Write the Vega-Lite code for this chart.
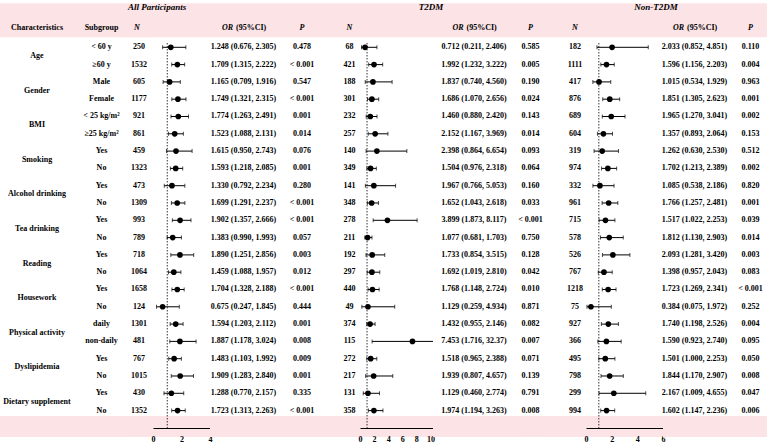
{
"$schema": "https://vega.github.io/schema/vega-lite/v6.json",
"padding": 0,
"background": "white",
"spacing": 0,
"bounds": "flush",
"config": {
  "view": {"stroke": null},
  "concat": {"spacing": 0},
  "text": {"font": "Liberation Serif", "fontWeight": "bold", "fontSize": 8, "color": "black"},
  "axis": {"domain": true, "domainColor": "black", "domainWidth": 1, "ticks": false, "grid": false, "labelFont": "Liberation Serif", "labelFontWeight": "bold", "labelFontSize": 8, "labelColor": "black", "labelPadding": 7, "zindex": 1, "labelFlush": false, "labelOverlap": false, "labelBound": false, "title": null}
},
"datasets": {
"t": [
{"i":0,"grp":"Age","sub":"< 60 y","na":"250","ora":1.248,"loa":0.676,"hia":2.305,"ta":"1.248 (0.676, 2.305)","pa":"0.478","nt":"68","ort":0.712,"lot":0.211,"hit":2.406,"tt":"0.712 (0.211, 2.406)","pt":"0.585","nn":"182","orn":2.033,"lon":0.852,"hin":4.851,"tn":"2.033 (0.852, 4.851)","pn":"0.110"},
{"i":1,"grp":"Age","sub":"≥60 y","na":"1532","ora":1.709,"loa":1.315,"hia":2.222,"ta":"1.709 (1.315, 2.222)","pa":"< 0.001","nt":"421","ort":1.992,"lot":1.232,"hit":3.222,"tt":"1.992 (1.232, 3.222)","pt":"0.005","nn":"1111","orn":1.596,"lon":1.156,"hin":2.203,"tn":"1.596 (1.156, 2.203)","pn":"0.004"},
{"i":2,"grp":"Gender","sub":"Male","na":"605","ora":1.165,"loa":0.709,"hia":1.916,"ta":"1.165 (0.709, 1.916)","pa":"0.547","nt":"188","ort":1.837,"lot":0.740,"hit":4.560,"tt":"1.837 (0.740, 4.560)","pt":"0.190","nn":"417","orn":1.015,"lon":0.534,"hin":1.929,"tn":"1.015 (0.534, 1.929)","pn":"0.963"},
{"i":3,"grp":"Gender","sub":"Female","na":"1177","ora":1.749,"loa":1.321,"hia":2.315,"ta":"1.749 (1.321, 2.315)","pa":"< 0.001","nt":"301","ort":1.686,"lot":1.070,"hit":2.656,"tt":"1.686 (1.070, 2.656)","pt":"0.024","nn":"876","orn":1.851,"lon":1.305,"hin":2.623,"tn":"1.851 (1.305, 2.623)","pn":"0.001"},
{"i":4,"grp":"BMI","sub":"< 25 kg/m²","na":"921","ora":1.774,"loa":1.263,"hia":2.491,"ta":"1.774 (1.263, 2.491)","pa":"0.001","nt":"232","ort":1.460,"lot":0.880,"hit":2.420,"tt":"1.460 (0.880, 2.420)","pt":"0.143","nn":"689","orn":1.965,"lon":1.270,"hin":3.041,"tn":"1.965 (1.270, 3.041)","pn":"0.002"},
{"i":5,"grp":"BMI","sub":"≥25 kg/m²","na":"861","ora":1.523,"loa":1.088,"hia":2.131,"ta":"1.523 (1.088, 2.131)","pa":"0.014","nt":"257","ort":2.152,"lot":1.167,"hit":3.969,"tt":"2.152 (1.167, 3.969)","pt":"0.014","nn":"604","orn":1.357,"lon":0.893,"hin":2.064,"tn":"1.357 (0.893, 2.064)","pn":"0.153"},
{"i":6,"grp":"Smoking","sub":"Yes","na":"459","ora":1.615,"loa":0.950,"hia":2.743,"ta":"1.615 (0.950, 2.743)","pa":"0.076","nt":"140","ort":2.398,"lot":0.864,"hit":6.654,"tt":"2.398 (0.864, 6.654)","pt":"0.093","nn":"319","orn":1.262,"lon":0.630,"hin":2.530,"tn":"1.262 (0.630, 2.530)","pn":"0.512"},
{"i":7,"grp":"Smoking","sub":"No","na":"1323","ora":1.593,"loa":1.218,"hia":2.085,"ta":"1.593 (1.218, 2.085)","pa":"0.001","nt":"349","ort":1.504,"lot":0.976,"hit":2.318,"tt":"1.504 (0.976, 2.318)","pt":"0.064","nn":"974","orn":1.702,"lon":1.213,"hin":2.389,"tn":"1.702 (1.213, 2.389)","pn":"0.002"},
{"i":8,"grp":"Alcohol drinking","sub":"Yes","na":"473","ora":1.330,"loa":0.792,"hia":2.234,"ta":"1.330 (0.792, 2.234)","pa":"0.280","nt":"141","ort":1.967,"lot":0.766,"hit":5.053,"tt":"1.967 (0.766, 5.053)","pt":"0.160","nn":"332","orn":1.085,"lon":0.538,"hin":2.186,"tn":"1.085 (0.538, 2.186)","pn":"0.820"},
{"i":9,"grp":"Alcohol drinking","sub":"No","na":"1309","ora":1.699,"loa":1.291,"hia":2.237,"ta":"1.699 (1.291, 2.237)","pa":"< 0.001","nt":"348","ort":1.652,"lot":1.043,"hit":2.618,"tt":"1.652 (1.043, 2.618)","pt":"0.033","nn":"961","orn":1.766,"lon":1.257,"hin":2.481,"tn":"1.766 (1.257, 2.481)","pn":"0.001"},
{"i":10,"grp":"Tea drinking","sub":"Yes","na":"993","ora":1.902,"loa":1.357,"hia":2.666,"ta":"1.902 (1.357, 2.666)","pa":"< 0.001","nt":"278","ort":3.899,"lot":1.873,"hit":8.117,"tt":"3.899 (1.873, 8.117)","pt":"< 0.001","nn":"715","orn":1.517,"lon":1.022,"hin":2.253,"tn":"1.517 (1.022, 2.253)","pn":"0.039"},
{"i":11,"grp":"Tea drinking","sub":"No","na":"789","ora":1.383,"loa":0.990,"hia":1.993,"ta":"1.383 (0.990, 1.993)","pa":"0.057","nt":"211","ort":1.077,"lot":0.681,"hit":1.703,"tt":"1.077 (0.681, 1.703)","pt":"0.750","nn":"578","orn":1.812,"lon":1.130,"hin":2.903,"tn":"1.812 (1.130, 2.903)","pn":"0.014"},
{"i":12,"grp":"Reading","sub":"Yes","na":"718","ora":1.890,"loa":1.251,"hia":2.856,"ta":"1.890 (1.251, 2.856)","pa":"0.003","nt":"192","ort":1.733,"lot":0.854,"hit":3.515,"tt":"1.733 (0.854, 3.515)","pt":"0.128","nn":"526","orn":2.093,"lon":1.281,"hin":3.420,"tn":"2.093 (1.281, 3.420)","pn":"0.003"},
{"i":13,"grp":"Reading","sub":"No","na":"1064","ora":1.459,"loa":1.088,"hia":1.957,"ta":"1.459 (1.088, 1.957)","pa":"0.012","nt":"297","ort":1.692,"lot":1.019,"hit":2.810,"tt":"1.692 (1.019, 2.810)","pt":"0.042","nn":"767","orn":1.398,"lon":0.957,"hin":2.043,"tn":"1.398 (0.957, 2.043)","pn":"0.083"},
{"i":14,"grp":"Housework","sub":"Yes","na":"1658","ora":1.704,"loa":1.328,"hia":2.188,"ta":"1.704 (1.328, 2.188)","pa":"< 0.001","nt":"440","ort":1.768,"lot":1.148,"hit":2.724,"tt":"1.768 (1.148, 2.724)","pt":"0.010","nn":"1218","orn":1.723,"lon":1.269,"hin":2.341,"tn":"1.723 (1.269, 2.341)","pn":"< 0.001"},
{"i":15,"grp":"Housework","sub":"No","na":"124","ora":0.675,"loa":0.247,"hia":1.845,"ta":"0.675 (0.247, 1.845)","pa":"0.444","nt":"49","ort":1.129,"lot":0.259,"hit":4.934,"tt":"1.129 (0.259, 4.934)","pt":"0.871","nn":"75","orn":0.384,"lon":0.075,"hin":1.972,"tn":"0.384 (0.075, 1.972)","pn":"0.252"},
{"i":16,"grp":"Physical activity","sub":"daily","na":"1301","ora":1.594,"loa":1.203,"hia":2.112,"ta":"1.594 (1.203, 2.112)","pa":"0.001","nt":"374","ort":1.432,"lot":0.955,"hit":2.146,"tt":"1.432 (0.955, 2.146)","pt":"0.082","nn":"927","orn":1.740,"lon":1.198,"hin":2.526,"tn":"1.740 (1.198, 2.526)","pn":"0.004"},
{"i":17,"grp":"Physical activity","sub":"non-daily","na":"481","ora":1.887,"loa":1.178,"hia":3.024,"ta":"1.887 (1.178, 3.024)","pa":"0.008","nt":"115","ort":7.453,"lot":1.716,"hit":32.37,"tt":"7.453 (1.716, 32.37)","pt":"0.007","nn":"366","orn":1.590,"lon":0.923,"hin":2.740,"tn":"1.590 (0.923, 2.740)","pn":"0.095"},
{"i":18,"grp":"Dyslipidemia","sub":"Yes","na":"767","ora":1.483,"loa":1.103,"hia":1.992,"ta":"1.483 (1.103, 1.992)","pa":"0.009","nt":"272","ort":1.518,"lot":0.965,"hit":2.388,"tt":"1.518 (0.965, 2.388)","pt":"0.071","nn":"495","orn":1.501,"lon":1.000,"hin":2.253,"tn":"1.501 (1.000, 2.253)","pn":"0.050"},
{"i":19,"grp":"Dyslipidemia","sub":"No","na":"1015","ora":1.909,"loa":1.283,"hia":2.840,"ta":"1.909 (1.283, 2.840)","pa":"0.001","nt":"217","ort":1.939,"lot":0.807,"hit":4.657,"tt":"1.939 (0.807, 4.657)","pt":"0.139","nn":"798","orn":1.844,"lon":1.170,"hin":2.907,"tn":"1.844 (1.170, 2.907)","pn":"0.008"},
{"i":20,"grp":"Dietary supplement","sub":"Yes","na":"430","ora":1.288,"loa":0.770,"hia":2.157,"ta":"1.288 (0.770, 2.157)","pa":"0.335","nt":"131","ort":1.129,"lot":0.460,"hit":2.774,"tt":"1.129 (0.460, 2.774)","pt":"0.791","nn":"299","orn":2.167,"lon":1.009,"hin":4.655,"tn":"2.167 (1.009, 4.655)","pn":"0.047"},
{"i":21,"grp":"Dietary supplement","sub":"No","na":"1352","ora":1.723,"loa":1.313,"hia":2.263,"ta":"1.723 (1.313, 2.263)","pa":"< 0.001","nt":"358","ort":1.974,"lot":1.194,"hit":3.263,"tt":"1.974 (1.194, 3.263)","pt":"0.008","nn":"994","orn":1.602,"lon":1.147,"hin":2.236,"tn":"1.602 (1.147, 2.236)","pn":"0.006"}
]
},
"hconcat": [
{"width": 74, "height": 428, "layer": [
  {"data": {"values": [{}]}, "mark": {"type": "rect", "color": "#fbe3e6"}, "encoding": {"y": {"datum": -2.543, "type": "quantitative", "scale": {"domain": [-2.734, 22.006], "reverse": true, "nice": false, "zero": false}, "axis": null}, "y2": {"datum": -0.578}}},
  {"data": {"values": [{}]}, "mark": {"type": "rect", "color": "#fbe3e6"}, "encoding": {"y": {"datum": 21.31, "type": "quantitative"}, "y2": {"datum": 22.52}}},
  {"data": {"values": [{}]}, "mark": {"type": "text", "text": "Characteristics"}, "encoding": {"y": {"datum": -1.116, "type": "quantitative"}}},
  {"data": {"name": "t"}, "mark": {"type": "text"}, "encoding": {"y": {"aggregate": "mean", "field": "i", "type": "quantitative"}, "text": {"field": "grp", "type": "nominal"}}}
]},
{"width": 51, "height": 428, "layer": [
  {"data": {"values": [{}]}, "mark": {"type": "rect", "color": "#fbe3e6"}, "encoding": {"y": {"datum": -2.543, "type": "quantitative", "scale": {"domain": [-2.734, 22.006], "reverse": true, "nice": false, "zero": false}, "axis": null}, "y2": {"datum": -0.578}}},
  {"data": {"values": [{}]}, "mark": {"type": "rect", "color": "#fbe3e6"}, "encoding": {"y": {"datum": 21.31, "type": "quantitative"}, "y2": {"datum": 22.52}}},
  {"data": {"values": [{}]}, "mark": {"type": "text", "text": "Subgroup", "dx": 2}, "encoding": {"y": {"datum": -1.116, "type": "quantitative"}}},
  {"data": {"name": "t"}, "mark": {"type": "text", "dx": 2}, "encoding": {"y": {"field": "i", "type": "quantitative"}, "text": {"field": "sub", "type": "nominal"}}}
]},
{"width": 28, "height": 428, "layer": [
  {"data": {"values": [{}]}, "mark": {"type": "rect", "color": "#fbe3e6"}, "encoding": {"y": {"datum": -2.543, "type": "quantitative", "scale": {"domain": [-2.734, 22.006], "reverse": true, "nice": false, "zero": false}, "axis": null}, "y2": {"datum": -0.578}}},
  {"data": {"values": [{}]}, "mark": {"type": "rect", "color": "#fbe3e6"}, "encoding": {"y": {"datum": 21.31, "type": "quantitative"}, "y2": {"datum": 22.52}}},
  {"data": {"values": [{}]}, "mark": {"type": "text", "text": "N", "fontStyle": "italic", "dx": -2}, "encoding": {"y": {"datum": -1.116, "type": "quantitative"}}},
  {"data": {"name": "t"}, "mark": {"type": "text"}, "encoding": {"y": {"field": "i", "type": "quantitative"}, "text": {"field": "na", "type": "nominal"}}}
]},
{"width": 57, "height": 428, "layer": [
  {"data": {"values": [{}]}, "mark": {"type": "rect", "color": "#fbe3e6"}, "encoding": {"y": {"datum": -2.543, "type": "quantitative", "scale": {"domain": [-2.734, 22.006], "reverse": true, "nice": false, "zero": false}, "axis": null}, "y2": {"datum": -0.578}}},
  {"data": {"values": [{}]}, "mark": {"type": "rect", "color": "#fbe3e6"}, "encoding": {"y": {"datum": 21.31, "type": "quantitative"}, "y2": {"datum": 22.52}}},
  {"data": {"values": [{}]}, "mark": {"type": "text", "text": "All Participants", "fontStyle": "italic", "fontSize": 9, "dx": -24.5}, "encoding": {"y": {"datum": -2.347, "type": "quantitative"}}},
  {"data": {"values": [{}]}, "mark": {"type": "rule", "color": "#333333", "strokeDash": [1.5, 1.5], "strokeWidth": 1}, "encoding": {"x": {"datum": 1, "type": "quantitative", "scale": {"domain": [0, 4], "nice": false, "zero": false}, "axis": {"values": [0, 2, 4], "labelOverlap": false, "domain": true, "zindex": 1}}, "y": {"datum": -0.25, "type": "quantitative"}, "y2": {"datum": 22.006}}},
  {"data": {"name": "t"}, "mark": {"type": "rule", "color": "black", "strokeWidth": 1, "clip": true}, "encoding": {"x": {"field": "loa", "type": "quantitative", "axis": {"values": [0, 2, 4], "labelOverlap": false, "domain": true, "zindex": 1}}, "x2": {"field": "hia"}, "y": {"field": "i", "type": "quantitative"}}},
  {"data": {"name": "t"}, "mark": {"type": "tick", "orient": "vertical", "size": 4, "thickness": 1, "color": "black", "clip": true}, "encoding": {"x": {"field": "loa", "type": "quantitative", "axis": {"values": [0, 2, 4], "labelOverlap": false, "domain": true, "zindex": 1}}, "y": {"field": "i", "type": "quantitative"}}},
  {"data": {"name": "t"}, "mark": {"type": "tick", "orient": "vertical", "size": 4, "thickness": 1, "color": "black", "clip": true}, "encoding": {"x": {"field": "hia", "type": "quantitative", "axis": {"values": [0, 2, 4], "labelOverlap": false, "domain": true, "zindex": 1}}, "y": {"field": "i", "type": "quantitative"}}},
  {"data": {"name": "t"}, "mark": {"type": "point", "filled": true, "color": "black", "opacity": 1, "size": 32}, "encoding": {"x": {"field": "ora", "type": "quantitative", "axis": {"values": [0, 2, 4], "labelOverlap": false, "domain": true, "zindex": 1}}, "y": {"field": "i", "type": "quantitative"}}}
]},
{"width": 67, "height": 428, "layer": [
  {"data": {"values": [{}]}, "mark": {"type": "rect", "color": "#fbe3e6"}, "encoding": {"y": {"datum": -2.543, "type": "quantitative", "scale": {"domain": [-2.734, 22.006], "reverse": true, "nice": false, "zero": false}, "axis": null}, "y2": {"datum": -0.578}}},
  {"data": {"values": [{}]}, "mark": {"type": "rect", "color": "#fbe3e6"}, "encoding": {"y": {"datum": 21.31, "type": "quantitative"}, "y2": {"datum": 22.52}}},
  {"data": {"values": [{}]}, "mark": {"type": "text", "text": "OR", "fontStyle": "italic", "align": "right", "dx": -10.5}, "encoding": {"y": {"datum": -1.116, "type": "quantitative"}}},
  {"data": {"values": [{}]}, "mark": {"type": "text", "text": "(95%CI)", "align": "left", "dx": -7.5}, "encoding": {"y": {"datum": -1.116, "type": "quantitative"}}},
  {"data": {"name": "t"}, "mark": {"type": "text"}, "encoding": {"y": {"field": "i", "type": "quantitative"}, "text": {"field": "ta", "type": "nominal"}}}
]},
{"width": 50, "height": 428, "layer": [
  {"data": {"values": [{}]}, "mark": {"type": "rect", "color": "#fbe3e6"}, "encoding": {"y": {"datum": -2.543, "type": "quantitative", "scale": {"domain": [-2.734, 22.006], "reverse": true, "nice": false, "zero": false}, "axis": null}, "y2": {"datum": -0.578}}},
  {"data": {"values": [{}]}, "mark": {"type": "rect", "color": "#fbe3e6"}, "encoding": {"y": {"datum": 21.31, "type": "quantitative"}, "y2": {"datum": 22.52}}},
  {"data": {"values": [{}]}, "mark": {"type": "text", "text": "P", "fontStyle": "italic"}, "encoding": {"y": {"datum": -1.116, "type": "quantitative"}}},
  {"data": {"name": "t"}, "mark": {"type": "text"}, "encoding": {"y": {"field": "i", "type": "quantitative"}, "text": {"field": "pa", "type": "nominal"}}}
]},
{"width": 33, "height": 428, "layer": [
  {"data": {"values": [{}]}, "mark": {"type": "rect", "color": "#fbe3e6"}, "encoding": {"y": {"datum": -2.543, "type": "quantitative", "scale": {"domain": [-2.734, 22.006], "reverse": true, "nice": false, "zero": false}, "axis": null}, "y2": {"datum": -0.578}}},
  {"data": {"values": [{}]}, "mark": {"type": "rect", "color": "#fbe3e6"}, "encoding": {"y": {"datum": 21.31, "type": "quantitative"}, "y2": {"datum": 22.52}}},
  {"data": {"values": [{}]}, "mark": {"type": "text", "text": "N", "fontStyle": "italic", "dx": 6}, "encoding": {"y": {"datum": -1.116, "type": "quantitative"}}},
  {"data": {"name": "t"}, "mark": {"type": "text", "dx": 6}, "encoding": {"y": {"field": "i", "type": "quantitative"}, "text": {"field": "nt", "type": "nominal"}}}
]},
{"width": 73, "height": 428, "layer": [
  {"data": {"values": [{}]}, "mark": {"type": "rect", "color": "#fbe3e6"}, "encoding": {"y": {"datum": -2.543, "type": "quantitative", "scale": {"domain": [-2.734, 22.006], "reverse": true, "nice": false, "zero": false}, "axis": null}, "y2": {"datum": -0.578}}},
  {"data": {"values": [{}]}, "mark": {"type": "rect", "color": "#fbe3e6"}, "encoding": {"y": {"datum": 21.31, "type": "quantitative"}, "y2": {"datum": 22.52}}},
  {"data": {"values": [{}]}, "mark": {"type": "rule", "color": "#333333", "strokeDash": [1.5, 1.5], "strokeWidth": 1}, "encoding": {"x": {"datum": 1, "type": "quantitative", "scale": {"domain": [0, 10.37], "nice": false, "zero": false}, "axis": {"values": [0, 2, 4, 6, 8, 10], "labelOverlap": false, "domain": true, "zindex": 1}}, "y": {"datum": -0.25, "type": "quantitative"}, "y2": {"datum": 22.006}}},
  {"data": {"name": "t"}, "mark": {"type": "rule", "color": "black", "strokeWidth": 1, "clip": true}, "encoding": {"x": {"field": "lot", "type": "quantitative", "axis": {"values": [0, 2, 4, 6, 8, 10], "labelOverlap": false, "domain": true, "zindex": 1}}, "x2": {"field": "hit"}, "y": {"field": "i", "type": "quantitative"}}},
  {"data": {"name": "t"}, "mark": {"type": "tick", "orient": "vertical", "size": 4, "thickness": 1, "color": "black", "clip": true}, "encoding": {"x": {"field": "lot", "type": "quantitative", "axis": {"values": [0, 2, 4, 6, 8, 10], "labelOverlap": false, "domain": true, "zindex": 1}}, "y": {"field": "i", "type": "quantitative"}}},
  {"data": {"name": "t"}, "mark": {"type": "tick", "orient": "vertical", "size": 4, "thickness": 1, "color": "black", "clip": true}, "encoding": {"x": {"field": "hit", "type": "quantitative", "axis": {"values": [0, 2, 4, 6, 8, 10], "labelOverlap": false, "domain": true, "zindex": 1}}, "y": {"field": "i", "type": "quantitative"}}},
  {"data": {"name": "t"}, "mark": {"type": "point", "filled": true, "color": "black", "opacity": 1, "size": 32}, "encoding": {"x": {"field": "ort", "type": "quantitative", "axis": {"values": [0, 2, 4, 6, 8, 10], "labelOverlap": false, "domain": true, "zindex": 1}}, "y": {"field": "i", "type": "quantitative"}}}
]},
{"width": 82, "height": 428, "layer": [
  {"data": {"values": [{}]}, "mark": {"type": "rect", "color": "#fbe3e6"}, "encoding": {"y": {"datum": -2.543, "type": "quantitative", "scale": {"domain": [-2.734, 22.006], "reverse": true, "nice": false, "zero": false}, "axis": null}, "y2": {"datum": -0.578}}},
  {"data": {"values": [{}]}, "mark": {"type": "rect", "color": "#fbe3e6"}, "encoding": {"y": {"datum": 21.31, "type": "quantitative"}, "y2": {"datum": 22.52}}},
  {"data": {"values": [{}]}, "mark": {"type": "text", "text": "T2DM", "fontStyle": "italic", "fontSize": 9, "dx": -43}, "encoding": {"y": {"datum": -2.347, "type": "quantitative"}}},
  {"data": {"values": [{}]}, "mark": {"type": "text", "text": "OR", "fontStyle": "italic", "align": "right", "dx": -10.5}, "encoding": {"y": {"datum": -1.116, "type": "quantitative"}}},
  {"data": {"values": [{}]}, "mark": {"type": "text", "text": "(95%CI)", "align": "left", "dx": -7.5}, "encoding": {"y": {"datum": -1.116, "type": "quantitative"}}},
  {"data": {"name": "t"}, "mark": {"type": "text"}, "encoding": {"y": {"field": "i", "type": "quantitative"}, "text": {"field": "tt", "type": "nominal"}}}
]},
{"width": 31, "height": 428, "layer": [
  {"data": {"values": [{}]}, "mark": {"type": "rect", "color": "#fbe3e6"}, "encoding": {"y": {"datum": -2.543, "type": "quantitative", "scale": {"domain": [-2.734, 22.006], "reverse": true, "nice": false, "zero": false}, "axis": null}, "y2": {"datum": -0.578}}},
  {"data": {"values": [{}]}, "mark": {"type": "rect", "color": "#fbe3e6"}, "encoding": {"y": {"datum": 21.31, "type": "quantitative"}, "y2": {"datum": 22.52}}},
  {"data": {"values": [{}]}, "mark": {"type": "text", "text": "P", "fontStyle": "italic"}, "encoding": {"y": {"datum": -1.116, "type": "quantitative"}}},
  {"data": {"name": "t"}, "mark": {"type": "text"}, "encoding": {"y": {"field": "i", "type": "quantitative"}, "text": {"field": "pt", "type": "nominal"}}}
]},
{"width": 40, "height": 428, "layer": [
  {"data": {"values": [{}]}, "mark": {"type": "rect", "color": "#fbe3e6"}, "encoding": {"y": {"datum": -2.543, "type": "quantitative", "scale": {"domain": [-2.734, 22.006], "reverse": true, "nice": false, "zero": false}, "axis": null}, "y2": {"datum": -0.578}}},
  {"data": {"values": [{}]}, "mark": {"type": "rect", "color": "#fbe3e6"}, "encoding": {"y": {"datum": 21.31, "type": "quantitative"}, "y2": {"datum": 22.52}}},
  {"data": {"values": [{}]}, "mark": {"type": "text", "text": "N", "fontStyle": "italic", "dx": 9}, "encoding": {"y": {"datum": -1.116, "type": "quantitative"}}},
  {"data": {"name": "t"}, "mark": {"type": "text", "dx": 9}, "encoding": {"y": {"field": "i", "type": "quantitative"}, "text": {"field": "nn", "type": "nominal"}}}
]},
{"width": 77, "height": 428, "layer": [
  {"data": {"values": [{}]}, "mark": {"type": "rect", "color": "#fbe3e6"}, "encoding": {"y": {"datum": -2.543, "type": "quantitative", "scale": {"domain": [-2.734, 22.006], "reverse": true, "nice": false, "zero": false}, "axis": null}, "y2": {"datum": -0.578}}},
  {"data": {"values": [{}]}, "mark": {"type": "rect", "color": "#fbe3e6"}, "encoding": {"y": {"datum": 21.31, "type": "quantitative"}, "y2": {"datum": 22.52}}},
  {"data": {"values": [{}]}, "mark": {"type": "rule", "color": "#333333", "strokeDash": [1.5, 1.5], "strokeWidth": 1}, "encoding": {"x": {"datum": 1, "type": "quantitative", "scale": {"domain": [0, 6], "nice": false, "zero": false}, "axis": {"values": [0, 2, 4, 6], "labelOverlap": false, "domain": true, "zindex": 1}}, "y": {"datum": -0.25, "type": "quantitative"}, "y2": {"datum": 22.006}}},
  {"data": {"name": "t"}, "mark": {"type": "rule", "color": "black", "strokeWidth": 1, "clip": true}, "encoding": {"x": {"field": "lon", "type": "quantitative", "axis": {"values": [0, 2, 4, 6], "labelOverlap": false, "domain": true, "zindex": 1}}, "x2": {"field": "hin"}, "y": {"field": "i", "type": "quantitative"}}},
  {"data": {"name": "t"}, "mark": {"type": "tick", "orient": "vertical", "size": 4, "thickness": 1, "color": "black", "clip": true}, "encoding": {"x": {"field": "lon", "type": "quantitative", "axis": {"values": [0, 2, 4, 6], "labelOverlap": false, "domain": true, "zindex": 1}}, "y": {"field": "i", "type": "quantitative"}}},
  {"data": {"name": "t"}, "mark": {"type": "tick", "orient": "vertical", "size": 4, "thickness": 1, "color": "black", "clip": true}, "encoding": {"x": {"field": "hin", "type": "quantitative", "axis": {"values": [0, 2, 4, 6], "labelOverlap": false, "domain": true, "zindex": 1}}, "y": {"field": "i", "type": "quantitative"}}},
  {"data": {"name": "t"}, "mark": {"type": "point", "filled": true, "color": "black", "opacity": 1, "size": 32}, "encoding": {"x": {"field": "orn", "type": "quantitative", "axis": {"values": [0, 2, 4, 6], "labelOverlap": false, "domain": true, "zindex": 1}}, "y": {"field": "i", "type": "quantitative"}}}
]},
{"width": 63, "height": 428, "layer": [
  {"data": {"values": [{}]}, "mark": {"type": "rect", "color": "#fbe3e6"}, "encoding": {"y": {"datum": -2.543, "type": "quantitative", "scale": {"domain": [-2.734, 22.006], "reverse": true, "nice": false, "zero": false}, "axis": null}, "y2": {"datum": -0.578}}},
  {"data": {"values": [{}]}, "mark": {"type": "rect", "color": "#fbe3e6"}, "encoding": {"y": {"datum": 21.31, "type": "quantitative"}, "y2": {"datum": 22.52}}},
  {"data": {"values": [{}]}, "mark": {"type": "text", "text": "Non-T2DM", "fontStyle": "italic", "fontSize": 9, "dx": -38.5}, "encoding": {"y": {"datum": -2.347, "type": "quantitative"}}},
  {"data": {"values": [{}]}, "mark": {"type": "text", "text": "OR", "fontStyle": "italic", "align": "right", "dx": -10.5}, "encoding": {"y": {"datum": -1.116, "type": "quantitative"}}},
  {"data": {"values": [{}]}, "mark": {"type": "text", "text": "(95%CI)", "align": "left", "dx": -7.5}, "encoding": {"y": {"datum": -1.116, "type": "quantitative"}}},
  {"data": {"name": "t"}, "mark": {"type": "text"}, "encoding": {"y": {"field": "i", "type": "quantitative"}, "text": {"field": "tn", "type": "nominal"}}}
]},
{"width": 41, "height": 428, "layer": [
  {"data": {"values": [{}]}, "mark": {"type": "rect", "color": "#fbe3e6"}, "encoding": {"y": {"datum": -2.543, "type": "quantitative", "scale": {"domain": [-2.734, 22.006], "reverse": true, "nice": false, "zero": false}, "axis": null}, "y2": {"datum": -0.578}}},
  {"data": {"values": [{}]}, "mark": {"type": "rect", "color": "#fbe3e6"}, "encoding": {"y": {"datum": 21.31, "type": "quantitative"}, "y2": {"datum": 22.52}}},
  {"data": {"values": [{}]}, "mark": {"type": "text", "text": "P", "fontStyle": "italic", "dx": 4}, "encoding": {"y": {"datum": -1.116, "type": "quantitative"}}},
  {"data": {"name": "t"}, "mark": {"type": "text", "dx": 4}, "encoding": {"y": {"field": "i", "type": "quantitative"}, "text": {"field": "pn", "type": "nominal"}}}
]}
]
}
